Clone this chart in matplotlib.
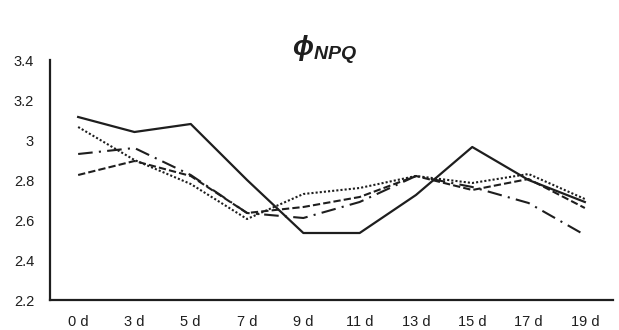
import matplotlib
matplotlib.use('Agg')
import matplotlib.pyplot as plt

plt.rcParams['font.family'] = ['Liberation Sans', 'DejaVu Sans']
plt.rcParams['mathtext.fontset'] = 'custom'
plt.rcParams['mathtext.it'] = 'Liberation Sans:italic:bold'
plt.rcParams['mathtext.rm'] = 'Liberation Sans:bold'

days = ['0 d', '3 d', '5 d', '7 d', '9 d', '11 d', '13 d', '15 d', '17 d', '19 d']
solid = [3.115, 3.04, 3.08, 2.80, 2.535, 2.535, 2.725, 2.965, 2.80, 2.69]
dotted = [3.065, 2.90, 2.78, 2.605, 2.73, 2.76, 2.82, 2.785, 2.83, 2.705]
dashed = [2.825, 2.895, 2.82, 2.635, 2.665, 2.715, 2.82, 2.75, 2.805, 2.66]
dashdot = [2.93, 2.96, 2.825, 2.635, 2.61, 2.69, 2.82, 2.765, 2.685, 2.525]

ink = '#1e1e1e'

fig = plt.figure(figsize=(6.19, 3.3), dpi=100)
ax = fig.add_axes([50 / 619, 1 - 300 / 330, 563 / 619, 240 / 330])

x = range(len(days))
ax.plot(x, solid, color=ink, lw=1.6, ls='-')
ax.plot(x, dotted, color=ink, lw=1.5, ls=(0, (1, 1)))
ax.plot(x, dashed, color=ink, lw=1.5, ls=(0, (3.5, 1.5)))
ax.plot(x, dashdot, color=ink, lw=1.5, ls=(0, (7, 3, 1, 3)))

ax.set_xlim(-0.5, len(days) - 0.5)
ax.set_ylim(2.2, 3.4)
ax.set_yticks([2.2, 2.4, 2.6, 2.8, 3.0, 3.2, 3.4])
ax.set_yticklabels(['2.2', '2.4', '2.6', '2.8', '3', '3.2', '3.4'])
ax.set_xticks(list(x))
ax.set_xticklabels(days)
ax.tick_params(length=0, labelsize=10.5, colors=ink)
ax.tick_params(axis='x', pad=10.5)
ax.tick_params(axis='y', pad=11.5)
for s in ['top', 'right']:
    ax.spines[s].set_visible(False)
for s in ['left', 'bottom']:
    ax.spines[s].set_linewidth(1.6)
    ax.spines[s].set_color(ink)

fig.text(324 / 619, 1 - 55 / 330, r'$\phi_{NPQ}$', fontsize=20, ha='center', va='baseline', color=ink)

fig.savefig('out.png', dpi=100)
